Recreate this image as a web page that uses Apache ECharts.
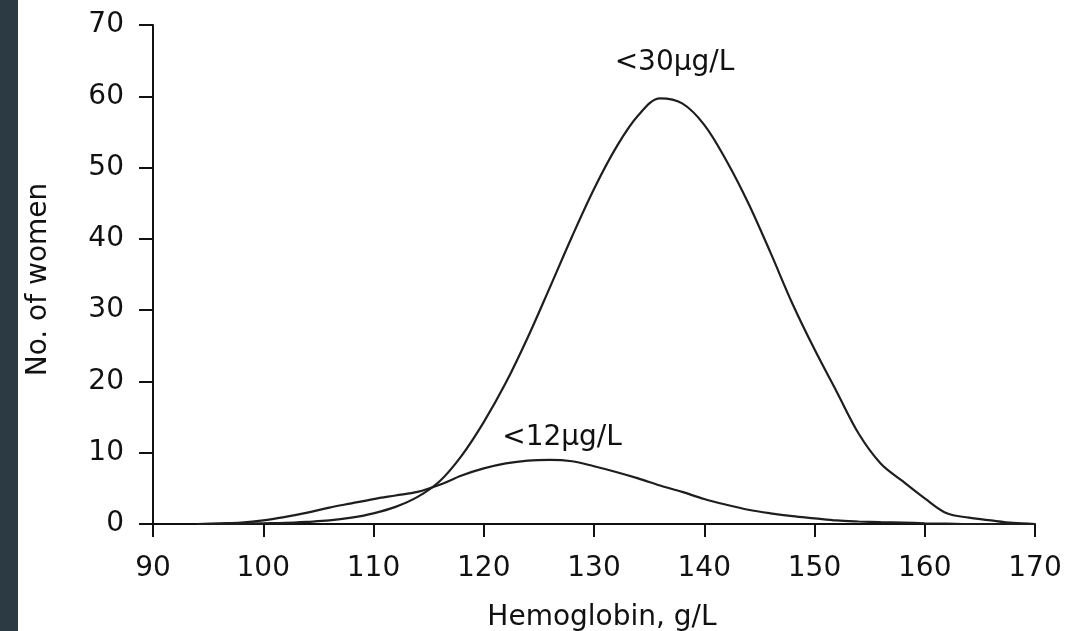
<!DOCTYPE html>
<html>
<head>
<meta charset="utf-8">
<script src="https://cdn.jsdelivr.net/npm/echarts@6/dist/echarts.min.js"></script>
<style>
  html, body { margin: 0; padding: 0; background: #fff; }
  #chart { width: 1086px; height: 631px; }
  .strip { position: absolute; left: 0; top: 0; width: 18px; height: 631px; background: #2c3b43; }
</style>
</head>
<body>
<div id="chart"></div>
<div class="strip"></div>
<script>
// hemoglobin values (g/L) sampled along the curves
const hb = [94, 96, 98, 100, 102, 104, 106, 108, 110, 112, 114, 116, 118, 120, 122, 124, 126, 128, 130,
  132, 134, 136, 138, 140, 142, 144, 146, 148, 150, 152, 154, 156, 158, 160, 162, 164, 166, 168, 170]

// ferritin < 30 ug/L
const under30 = [0, 0, 0.05, 0.1, 0.15, 0.3, 0.5, 0.9, 1.5, 2.4, 3.8, 6.0, 9.6, 14.3, 19.8, 26.2, 33.2, 40.3, 47.0,
  52.8, 57.3, 59.7, 59.0, 56.0, 51.0, 45.0, 38.1, 30.9, 24.5, 18.6, 12.7, 8.5, 6.0, 3.6, 1.5, 0.9, 0.5, 0.15, 0]

// ferritin < 12 ug/L
const under12 = [0, 0.1, 0.2, 0.5, 1.0, 1.6, 2.3, 2.9, 3.5, 4.0, 4.5, 5.5, 6.8, 7.8, 8.5, 8.9, 9.0, 8.8, 8.1,
  7.3, 6.4, 5.4, 4.5, 3.5, 2.7, 2.0, 1.5, 1.1, 0.8, 0.5, 0.35, 0.25, 0.2, 0.1, 0.05, 0, 0, 0, 0]

// curve labels: [text, hb, count]
const annotations = [
  ['<30μg/L', 137.3, 64.6],
  ['<12μg/L', 127.1, 12.0],
]

const xTicks = { min: 90, max: 170, interval: 10 }
const yTicks = { min: 0, max: 70, interval: 10 }

const FONT = 'DejaVu Sans'
const INK = '#111'

const chart = echarts.init(document.getElementById('chart'))

function toPairs(ys) {
  return hb.map((x, i) => [x, ys[i]])
}

const curveStyle = { color: '#1e1e1e', width: 2.2 }

chart.setOption({
  animation: false,
  textStyle: { fontFamily: FONT, color: INK },
  grid: { left: 153, right: 51, top: 25, bottom: 107, containLabel: false, outerBoundsMode: 'none' },
  xAxis: {
    type: 'value',
    ...xTicks,
    name: 'Hemoglobin, g/L',
    nameLocation: 'middle',
    nameGap: 80,
    nameTextStyle: { fontSize: 28, color: INK, fontFamily: FONT, padding: [0, 0, 0, 16] },
    axisLine: { show: true, onZero: false, lineStyle: { color: INK, width: 2 } },
    axisTick: { show: true, inside: false, length: 13, lineStyle: { color: INK, width: 2 } },
    axisLabel: { fontSize: 28, color: INK, margin: 31, fontFamily: FONT },
    splitLine: { show: false },
  },
  yAxis: {
    type: 'value',
    ...yTicks,
    name: 'No. of women',
    nameLocation: 'middle',
    nameGap: 100,
    nameTextStyle: { fontSize: 28, color: INK, fontFamily: FONT, padding: [0, 10, 0, 0] },
    axisLine: { show: true, lineStyle: { color: INK, width: 2 } },
    axisTick: { show: true, inside: false, length: 14, lineStyle: { color: INK, width: 2 } },
    axisLabel: { fontSize: 28, color: INK, margin: 29, fontFamily: FONT },
    splitLine: { show: false },
  },
  series: [
    {
      name: '<30μg/L',
      type: 'line',
      data: toPairs(under30),
      smooth: 0.35,
      showSymbol: false,
      lineStyle: curveStyle,
      markPoint: {
        symbolSize: 1,
        itemStyle: { color: 'rgba(0,0,0,0)' },
        label: { show: true, position: 'inside', fontSize: 28, color: INK, fontFamily: FONT, formatter: p => p.name },
        data: annotations.map(a => ({ name: a[0], coord: [a[1], a[2]] })),
      },
    },
    {
      name: '<12μg/L',
      type: 'line',
      data: toPairs(under12),
      smooth: 0.35,
      showSymbol: false,
      lineStyle: curveStyle,
    },
  ],
})
</script>
</body>
</html>
